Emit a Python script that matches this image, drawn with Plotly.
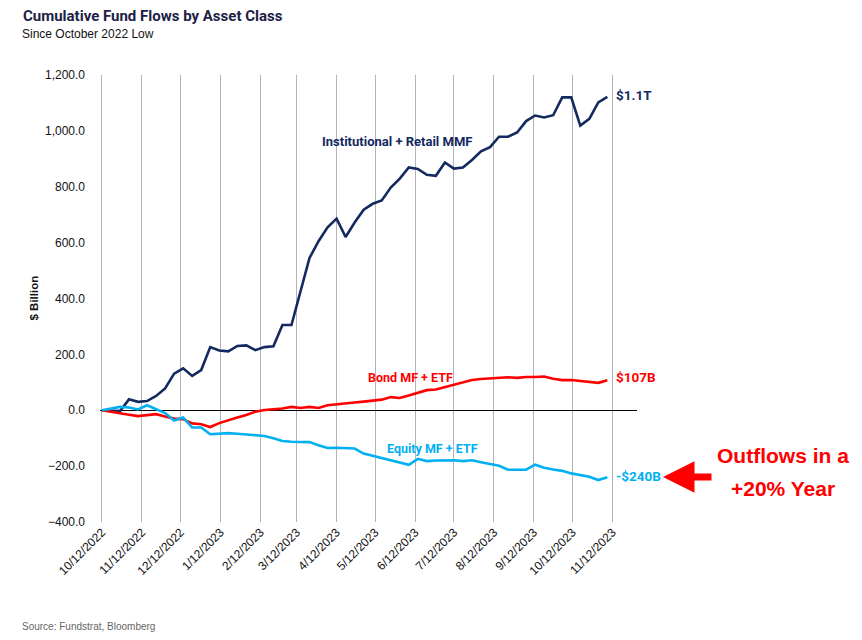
import pandas as pd
import plotly.graph_objects as go

# Weekly dates (Wednesdays) from the October 2022 low
dates = pd.date_range("2022-10-12", periods=57, freq="7D")

mmf = [0, -2, -3, 39, 30, 33, 51, 78, 131, 150, 123, 144, 226, 214, 211, 230, 232, 215, 226, 229,
       305, 305, 425, 545, 605, 655, 686, 620, 672, 718, 739, 751, 797, 829, 869, 864, 843, 839,
       887, 865, 869, 896, 927, 942, 979, 979, 994, 1035, 1055, 1048, 1056, 1120, 1120, 1019,
       1043, 1102, 1122]

bond = [0, -6, -11, -16, -21, -18, -14, -22, -30, -32, -47, -50, -60, -46, -35, -26, -17, -5, 1, 4,
        6, 12, 8, 12, 8, 18, 22, 25, 28, 31, 35, 38, 47, 44, 53, 62, 72, 74, 83, 92, 100, 108, 112,
        114, 116, 118, 116, 119, 119, 121, 113, 108, 108, 105, 102, 98, 107]

equity = [0, 6, 12, 10, 3, 18, 5, -10, -37, -26, -62, -62, -86, -84, -82, -84, -87, -89, -92, -100,
          -110, -113, -113, -114, -125, -135, -134, -135, -137, -155, -163, -172, -180, -187, -195,
          -174, -182, -180, -179, -179, -182, -179, -186, -192, -199, -213, -213, -213, -195, -206,
          -212, -217, -226, -231, -238, -250, -240]

tick_dates = ["2022-10-12", "2022-11-12", "2022-12-12", "2023-01-12", "2023-02-12", "2023-03-12",
              "2023-04-12", "2023-05-12", "2023-06-12", "2023-07-12", "2023-08-12", "2023-09-12",
              "2023-10-12", "2023-11-12"]
tick_text = ["10/12/2022", "11/12/2022", "12/12/2022", "1/12/2023", "2/12/2023", "3/12/2023",
             "4/12/2023", "5/12/2023", "6/12/2023", "7/12/2023", "8/12/2023", "9/12/2023",
             "10/12/2023", "11/12/2023"]
y_ticks = [-400, -200, 0, 200, 400, 600, 800, 1000, 1200]

NAVY = "#13295f"
RED = "#ff0000"
BLUE = "#00b0f0"

W, H = 854, 632  # page body has an 8px margin
L, R, T, B = 92, 225, 67, 118
PW = W - L - R
PH = H - T - B


def px(xpix):
    return (xpix - 8 - L) / PW


def py(ypix):
    return (H - B - (ypix - 8)) / PH


fig = go.Figure()
fig.add_trace(go.Scatter(x=dates, y=mmf, mode="lines", line=dict(color=NAVY, width=2.6),
                         name="Institutional + Retail MMF"))
fig.add_trace(go.Scatter(x=dates, y=bond, mode="lines", line=dict(color=RED, width=2.6),
                         name="Bond MF + ETF"))
fig.add_trace(go.Scatter(x=dates, y=equity, mode="lines", line=dict(color=BLUE, width=2.6),
                         name="Equity MF + ETF"))

lab_font = "Roboto, Arial, sans-serif"
sans = "Liberation Sans, Arial, sans-serif"
ann = []
ann.append(dict(x="2023-05-29", y=961, text="<b>Institutional + Retail MMF</b>", showarrow=False,
                font=dict(family=lab_font, size=13, color=NAVY), xanchor="center", yanchor="middle"))
ann.append(dict(x="2023-06-08", y=118, text="<b>Bond MF + ETF</b>", showarrow=False,
                font=dict(family=lab_font, size=12.5, color=RED), xanchor="center", yanchor="middle"))
ann.append(dict(x="2023-06-25", y=-136, text="<b>Equity MF + ETF</b>", showarrow=False,
                font=dict(family=lab_font, size=12.5, color=BLUE), xanchor="center", yanchor="middle"))
last = dates[-1]
ann.append(dict(x=last, y=1129, text="<b>$1.1T</b>", showarrow=False, xanchor="left", xshift=7,
                font=dict(family=lab_font, size=13.5, color=NAVY), yanchor="middle"))
ann.append(dict(x=last, y=118, text="<b>$107B</b>", showarrow=False, xanchor="left", xshift=7,
                font=dict(family=lab_font, size=13.5, color=RED), yanchor="middle"))
ann.append(dict(x=last, y=-236, text="<b>-$240B</b>", showarrow=False, xanchor="left", xshift=7,
                font=dict(family=lab_font, size=13.5, color=BLUE), yanchor="middle"))

# Callout
ann.append(dict(xref="paper", yref="paper", x=px(783), y=py(455), text="<b>Outflows in a</b>",
                showarrow=False, xanchor="center", yanchor="middle",
                font=dict(family=sans, size=21, color=RED)))
ann.append(dict(xref="paper", yref="paper", x=px(783), y=py(488), text="<b>+20% Year</b>",
                showarrow=False, xanchor="center", yanchor="middle",
                font=dict(family=sans, size=21, color=RED)))
ann.append(dict(xref="paper", yref="paper", x=px(663), y=py(477), text="", showarrow=True,
                ax=50, ay=0, arrowcolor=RED, arrowwidth=7, arrowhead=2, arrowsize=0.9,
                standoff=0, startstandoff=0))

# Subtitle, y-axis title, source
ann.append(dict(xref="paper", yref="paper", x=px(20), y=py(34), text="Since October 2022 Low",
                showarrow=False, xanchor="left", yanchor="middle",
                font=dict(family=sans, size=12, color="#111111")))
ann.append(dict(xref="paper", yref="paper", x=px(33), y=0.5, text="<b>$ Billion</b>",
                showarrow=False, xanchor="center", yanchor="middle", textangle=-90,
                font=dict(family=sans, size=11.5, color="#111111")))
ann.append(dict(xref="paper", yref="paper", x=px(20), y=py(626),
                text="Source: Fundstrat, Bloomberg", showarrow=False, xanchor="left",
                yanchor="middle", font=dict(family=sans, size=10, color="#666666")))

fig.update_layout(
    width=W, height=H,
    margin=dict(l=L, r=R, t=T, b=B),
    paper_bgcolor="white", plot_bgcolor="white",
    showlegend=False,
    title=dict(text="<b>Cumulative Fund Flows by Asset Class</b>", x=15 / W, xanchor="left",
               y=1 - 8 / H, yanchor="middle", yref="container", xref="container",
               font=dict(family=lab_font, size=15, color="#1c2244")),
    annotations=ann,
    xaxis=dict(type="date", range=["2022-10-10 12:00", "2023-12-01"], tickvals=tick_dates,
               ticktext=tick_text, tickangle=-45, showgrid=True, gridcolor="#b4b4b4",
               gridwidth=1, zeroline=False, showline=False, ticks="",
               tickfont=dict(family=sans, size=12, color="#111111")),
    yaxis=dict(range=[-400, 1200], tickvals=y_ticks, tickformat=",.1f", showgrid=False,
               zeroline=True, zerolinecolor="#000000", zerolinewidth=1, showline=False,
               ticks="", ticklabelstandoff=14,
               tickfont=dict(family=sans, size=12, color="#111111")),
)

fig.write_html("out.html")
